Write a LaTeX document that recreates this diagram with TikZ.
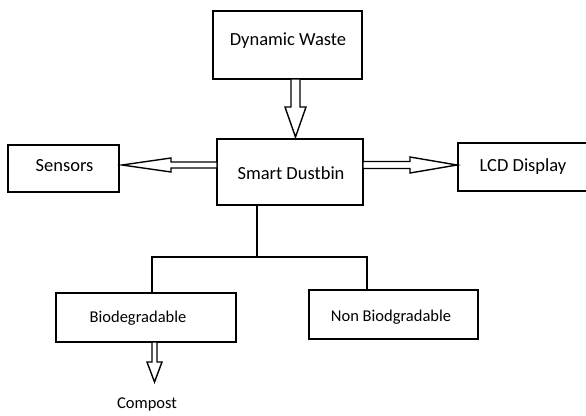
\documentclass[tikz,border=0pt]{standalone}
\usepackage{fontspec}
\setmainfont{Carlito}
\usetikzlibrary{calc}
\newcommand\blockarr[5]{% start, end, shaft half width, head half width, head length
  \draw[blockarrow]
    ($(#1)!#3!90:(#2)$) --
    ($($(#2)!#5!(#1)$)!#3!90:(#2)$) --
    ($($(#2)!#5!(#1)$)!#4!90:(#2)$) --
    (#2) --
    ($($(#2)!#5!(#1)$)!#4!-90:(#2)$) --
    ($($(#2)!#5!(#1)$)!#3!-90:(#2)$) --
    ($(#1)!#3!-90:(#2)$) -- cycle;}
\begin{document}
\begin{tikzpicture}[x=1pt,y=-1pt,
  box/.style={draw, line width=1.6pt, inner sep=0pt, outer sep=0pt, anchor=center},
  bigtxt/.style={font=\fontsize{18.5}{20}\selectfont},
  smalltxt/.style={font=\fontsize{16.5}{18}\selectfont},
  blockarrow/.style={draw, line width=1.4pt, fill=white, line join=miter},
  conn/.style={draw, line width=1.6pt}]
\useasboundingbox (0,0) rectangle (586,415);
\fill[white] (0,0) rectangle (586,415);
% boxes
\node[box, minimum width=149pt, minimum height=68pt] (dw) at (287.5,45) {};
\node[bigtxt] (dwt) at (288,41) {Dynamic Waste};
\node[box, minimum width=146pt, minimum height=66pt] (sd) at (290,172) {};
\node[bigtxt] (sdt) at (291,173) {Smart Dustbin};
\node[box, minimum width=111pt, minimum height=47pt] (sen) at (63.5,168.5) {};
\node[bigtxt] (sent) at (64.5,166) {Sensors};
\node[box, minimum width=132pt, minimum height=48pt] (lcd) at (524,167) {};
\node[bigtxt] (lcdt) at (523,167) {LCD Display};
\node[box, minimum width=180pt, minimum height=49pt] (bio) at (146,317.5) {};
\node[smalltxt] (biot) at (138,318) {Biodegradable};
\node[box, minimum width=169pt, minimum height=49pt] (nb) at (393.5,314.5) {};
\node[smalltxt] (nbt) at (391,317) {Non Biodgradable};
\node[smalltxt] (comp) at (147,404) {Compost};
% block arrows
\coordinate (a1s) at ($(dw.south)+(8,0)$);
\coordinate (a1e) at ($(sd.north)+(5.5,-2)$);
\blockarr{a1s}{a1e}{4.5pt}{10.5pt}{30pt}
\coordinate (a2s) at ($(sd.west)+(0,-7)$);
\coordinate (a2e) at ($(sen.east)+(3,-3.5)$);
\blockarr{a2s}{a2e}{3pt}{7pt}{49pt}
\coordinate (a3s) at ($(sd.east)+(0,-7)$);
\coordinate (a3e) at ($(lcd.west)+(-1,-2)$);
\blockarr{a3s}{a3e}{3.5pt}{8pt}{47pt}
\coordinate (a4s) at ($(bio.south)+(8.5,0)$);
\coordinate (a4e) at ($(bio.south)+(8.5,40)$);
\blockarr{a4s}{a4e}{2.5pt}{7.5pt}{20pt}
% tree connector
\coordinate (j) at (257,257);
\coordinate (jl) at (152,257);
\coordinate (jr) at (367,257);
\draw[conn] (sd.south -| j) -- (j) -- (jl) -- (jl |- bio.north);
\draw[conn] (j) -- (jr) -- (jr |- nb.north);
\end{tikzpicture}
\end{document}
